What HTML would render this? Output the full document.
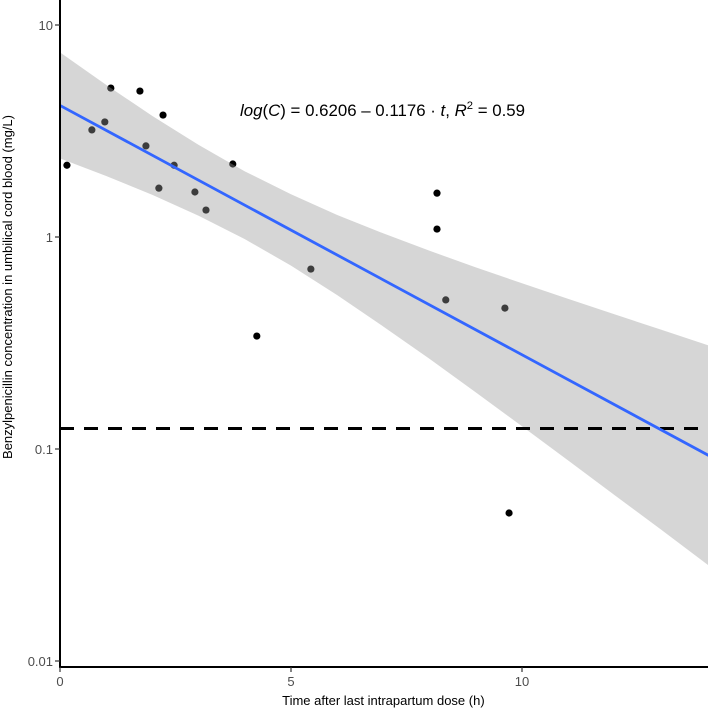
<!DOCTYPE html>
<html><head><meta charset="utf-8"><style>
body{margin:0;background:#fff;}
svg{display:block;font-family:"Liberation Sans",sans-serif;}
</style></head><body>
<svg id="chart" width="708" height="712"></svg>
<script>
const pointT=[0.15,0.69,0.97,1.1,1.73,1.86,2.14,2.23,2.47,2.92,3.16,3.74,4.26,5.43,8.16,8.16,8.35,9.63,9.72];
const pointC=[2.18,3.2,3.49,5.04,4.88,2.69,1.70,3.76,2.18,1.63,1.34,2.21,0.341,0.706,1.61,1.09,0.505,0.462,0.0499];
const bandT=[0,1,2,3,4,5,6,7,8,9,10,11,12,13,14.06];
const upperC=[7.43,5.22,3.72,2.72,2.04,1.59,1.27,1.04,0.861,0.719,0.605,0.511,0.432,0.366,0.307];
const lowerC=[2.35,1.94,1.58,1.26,0.977,0.733,0.532,0.378,0.266,0.185,0.128,0.0883,0.0607,0.0418,0.028];
const intercept=0.6206, slope=-0.1176;
const mic=0.125;
const xTicks=[0,5,10];
const yTicks=[0.01,0.1,1,10];
const yTickLabels=["0.01","0.1","1","10"];

const NS="http://www.w3.org/2000/svg";
const svg=document.getElementById('chart');
const X0=60,XPU=46.2,XMAX=14.06,Y1=237,DEC=212,AXY=667;
const x=t=>X0+t*XPU;
const y=c=>Y1-Math.log10(c)*DEC;
function mk(tag,attrs,parent){const e=document.createElementNS(NS,tag);for(const k in attrs)e.setAttribute(k,attrs[k]);(parent||svg).appendChild(e);return e;}

const gp=mk('g',{});


pointT.forEach((t,i)=>{const c=mk('circle',{cx:x(t),cy:y(pointC[i]),r:3.6,fill:'#000'},gp);

});

let d='';
bandT.forEach((t,i)=>{d+=(i?'L':'M')+x(t)+','+y(upperC[i]);});
for(let i=bandT.length-1;i>=0;i--)d+='L'+x(bandT[i])+','+y(lowerC[i]);
d+='Z';
const band=mk('path',{d:d,fill:'#999',opacity:0.4,stroke:'none'});



const dash=mk('line',{x1:X0,x2:708,y1:y(mic),y2:y(mic),stroke:'#000','stroke-width':3,'stroke-dasharray':'14,10'});



const fit=mk('line',{x1:x(0),y1:Y1-intercept*DEC,x2:x(XMAX),y2:Y1-(intercept+slope*XMAX)*DEC,stroke:'#3366ff','stroke-width':2.8});



const ax=mk('g',{});


mk('line',{x1:X0,x2:X0,y1:0,y2:AXY+1,stroke:'#000','stroke-width':2},ax);
mk('line',{x1:X0-1,x2:708,y1:AXY,y2:AXY,stroke:'#000','stroke-width':2},ax);
xTicks.forEach(t=>{mk('line',{x1:x(t),x2:x(t),y1:AXY,y2:AXY+5,stroke:'#333','stroke-width':1.2},ax);
const l=mk('text',{x:x(t),y:AXY+19,'text-anchor':'middle','font-size':13,fill:'#4d4d4d'},ax);l.textContent=t;

});
yTicks.forEach((v,i)=>{mk('line',{x1:X0-5,x2:X0,y1:y(v),y2:y(v),stroke:'#333','stroke-width':1.2},ax);
const l=mk('text',{x:X0-7,y:y(v)+5,'text-anchor':'end','font-size':13,fill:'#4d4d4d'},ax);l.textContent=yTickLabels[i];

});

const xt=mk('text',{x:x(7),y:705,'text-anchor':'middle','font-size':13,fill:'#000'});
xt.textContent='Time after last intrapartum dose (h)';


const yt=mk('text',{x:0,y:0,'text-anchor':'middle','font-size':13,fill:'#000',transform:'translate(12,287) rotate(-90)'});
yt.textContent='Benzylpenicillin concentration in umbilical cord blood (mg/L)';



const eq=mk('text',{x:240,y:116,'font-size':16.5,fill:'#000',textLength:285,lengthAdjust:'spacingAndGlyphs'});
eq.innerHTML='<tspan font-style="italic">log</tspan>(<tspan font-style="italic">C</tspan>) = 0.6206 – 0.1176 · <tspan font-style="italic">t</tspan>,   <tspan font-style="italic">R</tspan><tspan font-size="11" dy="-7">2</tspan><tspan dy="7"> = 0.59</tspan>';


</script>
</body></html>
